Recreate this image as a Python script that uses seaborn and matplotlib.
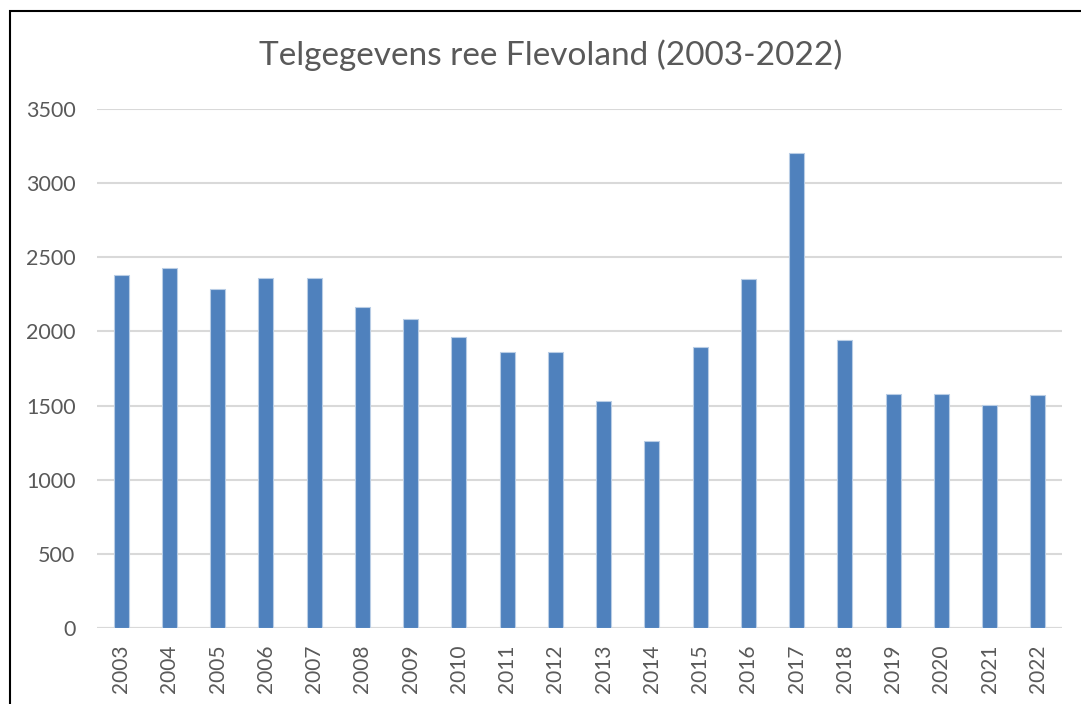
import pandas as pd
import numpy as np
import matplotlib
matplotlib.use("Agg")
import matplotlib.pyplot as plt
import seaborn as sns
from matplotlib.patches import Rectangle

years = [str(y) for y in range(2003, 2023)]
counts = [2380, 2430, 2285, 2357, 2362, 2165, 2082, 1965, 1860, 1860,
          1530, 1262, 1898, 2355, 3200, 1945, 1578, 1578, 1502, 1568]
yticks = [0, 500, 1000, 1500, 2000, 2500, 3000, 3500]

df = pd.DataFrame({"Jaar": years, "Aantal": counts})

sns.set_theme(style="white")
plt.rcParams['font.family'] = ['Lato', 'DejaVu Sans']

fig = plt.figure(figsize=(10.81, 7.04), dpi=100)
ax = fig.add_axes([0.0897, 0.108, 0.8927, 0.7372])

sns.barplot(data=df, x="Jaar", y="Aantal", color="#4f81bd", saturation=1,
            width=0.31, edgecolor="#b9cde5", linewidth=0.8, ax=ax, zorder=3)

ax.set_ylim(0, 3500)
ax.set_yticks(yticks)
ax.set_xlim(-0.5, len(years) - 0.5)
ax.yaxis.grid(True, color="#d9d9d9", linewidth=1.5, zorder=0)
ax.xaxis.grid(False)
for s in ax.spines.values():
    s.set_visible(False)
ax.axhline(0, color="#d9d9d9", linewidth=1.5, zorder=2)

ax.set_xlabel("")
ax.set_ylabel("")
ax.tick_params(axis="y", length=0, pad=15.5, labelsize=15.5, labelcolor="#595959")
ax.tick_params(axis="x", length=0, pad=12, labelsize=15, labelcolor="#595959",
               labelrotation=90)

fig.text(0.509, 0.921, "Telgegevens ree Flevoland (2003-2022)", ha="center",
         va="center", fontsize=24, color="#595959")

# chart frame (cropped on the right and bottom)
fig.patches.append(Rectangle((9.5 / 1081, -0.05), 1.2, 1 - 10.5 / 704 + 0.05,
                             transform=fig.transFigure, fill=False,
                             edgecolor="black", linewidth=1.5))

fig.savefig("out.png", dpi=100)
